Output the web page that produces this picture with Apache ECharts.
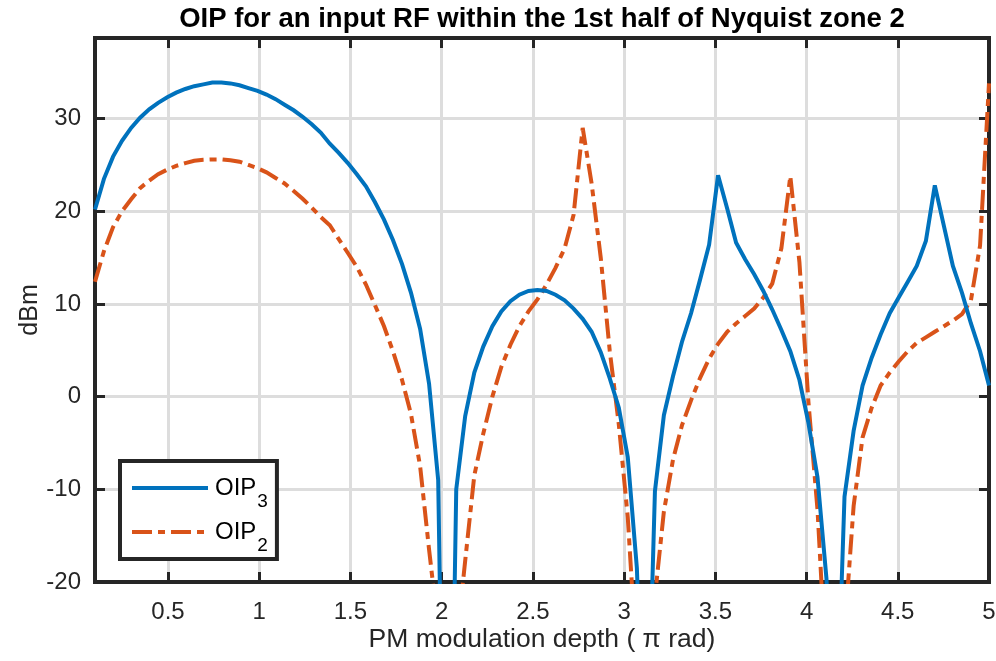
<!DOCTYPE html>
<html><head><meta charset="utf-8">
<script src="https://cdn.jsdelivr.net/npm/echarts@6/dist/echarts.min.js"></script>
<style>html,body{margin:0;padding:0;background:#fff}#c{width:996px;height:661px}</style>
</head><body><div id="c"></div>
<script>
const titleText = 'OIP for an input RF within the 1st half of Nyquist zone 2';
const xName = 'PM modulation depth ( \u03C0 rad)';
const yName = 'dBm';
const seriesNames = ['OIP3', 'OIP2'];
const xTickStep = 0.5;
const yTickStep = 10;

// modulation depth samples (pi rad)
const xs = [
0.100,0.149,0.199,0.248,0.298,0.347,0.397,0.446,0.496,0.545,
0.595,0.644,0.694,0.743,0.793,0.842,0.892,0.941,0.991,1.040,
1.090,1.139,1.189,1.238,1.288,1.337,1.387,1.436,1.486,1.535,
1.585,1.634,1.684,1.733,1.783,1.832,1.882,1.931,1.981,2.030,
2.080,2.129,2.179,2.228,2.278,2.327,2.377,2.426,2.476,2.525,
2.575,2.624,2.674,2.723,2.773,2.822,2.872,2.921,2.971,3.020,
3.070,3.119,3.169,3.218,3.268,3.317,3.367,3.416,3.466,3.515,
3.565,3.614,3.664,3.713,3.763,3.812,3.862,3.911,3.961,4.010,
4.060,4.109,4.159,4.208,4.258,4.307,4.357,4.406,4.456,4.505,
4.555,4.604,4.654,4.703,4.753,4.802,4.852,4.901,4.951,5.000];

// OIP3 (dBm)
const oip3 = [
20.2, 23.5, 25.9, 27.6, 29.0, 30.1, 31.0, 31.7, 32.3, 32.8,
33.2, 33.5, 33.7, 33.9, 33.9, 33.8, 33.6, 33.3, 33.0, 32.6,
32.1, 31.5, 30.9, 30.2, 29.4, 28.5, 27.3, 26.3, 25.2, 24.0,
22.7, 21.0, 19.1, 16.9, 14.3, 11.2, 7.3, 1.4, -9.0, -70,
-10.0, -2.1, 2.6, 5.4, 7.6, 9.2, 10.3, 11.0, 11.4, 11.5,
11.4, 11.0, 10.4, 9.5, 8.4, 7.0, 4.8, 2.0, -1.2, -6.5,
-18.5, -45, -10.2, -2.0, 2.2, 5.9, 9.0, 12.6, 16.4, 23.9,
20.3, 16.6, 14.8, 13.2, 11.4, 9.4, 7.2, 4.9, 1.8, -2.8,
-8.7, -19.6, -40, -10.8, -3.7, 1.2, 4.2, 6.7, 9.0, 10.7,
12.4, 14.1, 16.8, 22.8, 18.4, 14.1, 11.2, 7.9, 4.9, 1.2];

// OIP2 (dBm)
const oip2 = [
12.4, 15.7, 18.3, 20.0, 21.3, 22.5, 23.3, 24.0, 24.5, 24.9,
25.2, 25.45, 25.55, 25.6, 25.6, 25.5, 25.35, 25.0, 24.65, 24.2,
23.6, 23.0, 22.2, 21.35, 20.4, 19.4, 18.5, 17.0, 15.5, 14.0,
12.1, 9.9, 7.6, 4.9, 1.8, -1.9, -7.5, -16.5, -25, -45,
-27, -17.7, -8.5, -4.0, 0.0, 3.2, 5.6, 7.6, 9.2, 10.5,
12.1, 13.9, 16.0, 19.6, 29.0, 23.0, 15.0, 5.0, -3.0, -13.0,
-29, -45, -21.6, -12.4, -6.8, -3.1, -0.4, 2.0, 4.1, 5.7,
7.0, 7.9, 8.7, 9.5, 10.7, 12.2, 16.0, 23.8, 14.5, -0.5,
-12.2, -30, -45, -25.5, -11.8, -4.4, -1.2, 1.2, 2.6, 3.8,
4.9, 5.8, 6.4, 7.0, 7.6, 8.2, 8.9, 10.4, 16.3, 33.8];

const xMin = 0.1, xMax = 5, yMin = -20, yMax = 38.7;

const FONT = "'Liberation Sans', Arial, Helvetica, sans-serif";
const AX = '#262626';
const pair = (ys) => xs.map((x, i) => [x, ys[i]]);

const xLabelFmt = (v) => Math.abs(v / xTickStep - Math.round(v / xTickStep)) < 1e-6 ? String(+v.toFixed(2)) : '';
const yLabelFmt = (v) => Math.abs(v / yTickStep - Math.round(v / yTickStep)) < 1e-6 ? String(Math.round(v)) : '';

const frameLine = { show: true, onZero: false, lineStyle: { color: AX, width: 4, cap: 'square' } };
const tickStyle = { show: true, inside: true, length: 10, lineStyle: { color: AX, width: 3 } };
const gridLine = { show: true, lineStyle: { color: '#dddddd', width: 3 } };

const chart = echarts.init(document.getElementById('c'), null, { renderer: 'canvas' });
chart.setOption({
  animation: false,
  backgroundColor: '#fff',
  title: {
    text: titleText, left: 542, top: 5, textAlign: 'center', padding: 0,
    textStyle: { fontFamily: FONT, fontSize: 27.5, fontWeight: 'bold', color: '#000' }
  },
  grid: { left: 95, right: 7, top: 38, bottom: 79, containLabel: false, outerBoundsMode: 'none' },
  legend: {
    orient: 'vertical', left: 120, top: 461,
    padding: [15, 9, 4, 10],
    itemWidth: 76, itemHeight: 14, itemGap: 9,
    borderColor: AX, borderWidth: 4, backgroundColor: '#fff',
    lineStyle: { width: 4 },
    itemStyle: { opacity: 0 },
    data: seriesNames,
    formatter: (n) => '{b|OIP}{s|' + n.slice(3) + '}',
    textStyle: {
      fontFamily: FONT, color: '#000',
      rich: {
        b: { fontFamily: FONT, fontSize: 24, color: '#000', padding: [0, 0, 0, 2] },
        s: { fontFamily: FONT, fontSize: 19, color: '#000', padding: [27, 0, 0, 1] }
      }
    }
  },
  xAxis: [{
    type: 'value', position: 'bottom', min: xMin, max: xMax, splitNumber: 10,
    name: xName, nameLocation: 'middle', nameGap: 44, nameMoveOverlap: false,
    nameTextStyle: { fontFamily: FONT, fontSize: 26.5, color: AX },
    axisLine: frameLine, axisTick: tickStyle, splitLine: gridLine,
    axisLabel: { formatter: xLabelFmt, margin: 18, fontFamily: FONT, fontSize: 24, color: AX }
  }, {
    type: 'value', position: 'top', min: xMin, max: xMax, splitNumber: 10,
    axisLine: frameLine, axisTick: tickStyle, splitLine: { show: false }, axisLabel: { show: false }
  }],
  yAxis: [{
    type: 'value', position: 'left', min: yMin, max: yMax, interval: yTickStep,
    name: yName, nameLocation: 'middle', nameGap: 52, nameRotate: 90, nameMoveOverlap: false,
    nameTextStyle: { fontFamily: FONT, fontSize: 25, color: AX },
    axisLine: frameLine, axisTick: tickStyle, splitLine: gridLine,
    axisLabel: { formatter: yLabelFmt, margin: 14, fontFamily: FONT, fontSize: 24, color: AX }
  }, {
    type: 'value', position: 'right', min: yMin, max: yMax, interval: yTickStep,
    axisLine: frameLine, axisTick: tickStyle, splitLine: { show: false }, axisLabel: { show: false }
  }],
  series: [{
    name: seriesNames[0], type: 'line', xAxisIndex: 0, yAxisIndex: 0,
    data: pair(oip3), symbol: 'none', clip: true, z: 3,
    lineStyle: { color: '#0072BD', width: 4, join: 'miter', miterLimit: 4 },
    itemStyle: { color: '#0072BD' }
  }, {
    name: seriesNames[1], type: 'line', xAxisIndex: 0, yAxisIndex: 0,
    data: pair(oip2), symbol: 'none', clip: true, z: 2,
    lineStyle: { color: '#D95319', width: 4, type: [20, 6, 7, 6], join: 'miter', miterLimit: 4 },
    itemStyle: { color: '#D95319' }
  }]
});
</script></body></html>
